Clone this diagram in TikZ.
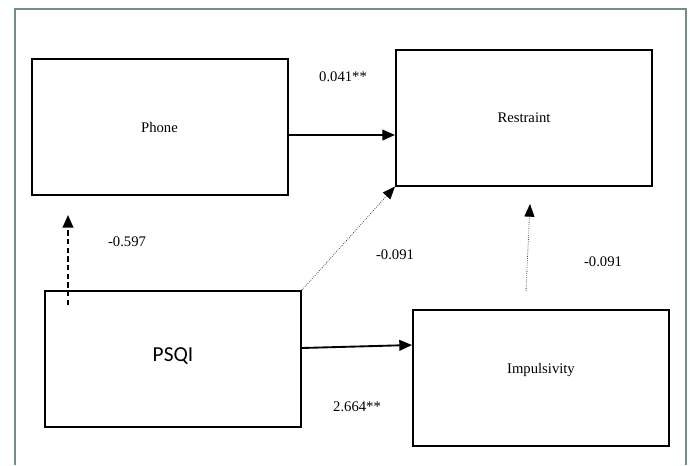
\documentclass[tikz,border=0pt]{standalone}
\usepackage{fontspec}
\setmainfont{Liberation Serif}
\newfontfamily\calfont{Carlito}
\usetikzlibrary{arrows.meta, positioning, calc}
\definecolor{cframe}{HTML}{6F8F8B}
\definecolor{cgrey}{HTML}{4A4A4A}
\tikzset{
  every picture/.style={font=\fontsize{11}{13}\selectfont},
  box/.style={draw=black, line width=1.5pt, minimum width=192pt, minimum height=102pt, inner sep=0pt},
  arrow/.style={-{Triangle[length=9.5pt, width=8pt]}, draw=black, line width=1.4pt},
  dasharrow/.style={arrow, dash pattern=on 4pt off 2.5pt},
  dotarrow/.style={-{Triangle[length=9.5pt, width=7.5pt, black]}, draw=cgrey, line width=0.6pt, densely dotted},
  coef/.style={inner sep=1pt},
}

\begin{document}
\begin{tikzpicture}[x=0.75pt, y=-0.75pt]
  \useasboundingbox (0,0) rectangle (690,465);
  % outer frame
  \draw[cframe, line width=1.3pt] (15,465) |- (686,9) -- (686,465);
  % variables
  \node[box] (phone) at (159.5,127) {Phone};
  \node[box] (restraint) at (524,117.5) {Restraint};
  \node[box, text depth=6pt] (psqi) at (173,359) {\calfont\fontsize{16}{18}\selectfont PSQI};
  \node[box, text depth=13pt] (impuls) at (541,377.5) {Impulsivity};
  % paths
  \draw[arrow] (phone.east |- 0,135) -- (restraint.west |- 0,135);
  \draw[arrow] (psqi.east |- 0,348) -- (impuls.west |- 0,345);
  \coordinate (d0) at (68,305);
  \coordinate (d1) at (68,215);
  \draw[dasharrow] (d0) -- (d1);
  \draw[dotarrow] (psqi.north east) -- (restraint.south west);
  \coordinate (i0) at (526,291);
  \coordinate (i1) at (530,204);
  \draw[dotarrow] (i0) -- (i1);
  % coefficients
  \node[coef] (c1) at (343,77) {0.041**};
  \node[coef] (c2) at (127,242) {-0.597};
  \node[coef] (c3) at (395,255) {-0.091};
  \node[coef] (c4) at (603,262) {-0.091};
  \node[coef] (c5) at (357,407) {2.664**};
\end{tikzpicture}
\end{document}
